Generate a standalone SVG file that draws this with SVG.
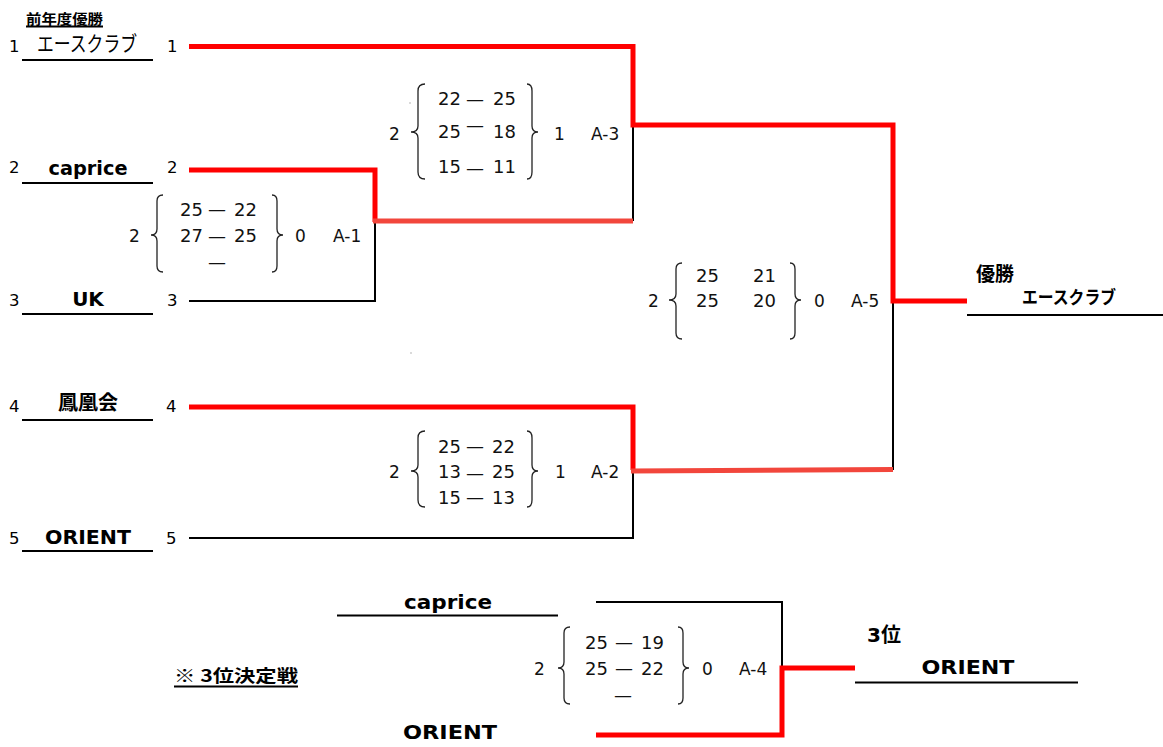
<svg xmlns="http://www.w3.org/2000/svg" width="1163" height="747" viewBox="0 0 1163 747">
<style>
.num{font-family:"DejaVu Sans","Liberation Sans",sans-serif;font-size:16.5px;fill:#000}
.sc{font-family:"DejaVu Sans","Liberation Sans",sans-serif;font-size:18px;fill:#111}
.sm{font-family:"DejaVu Sans","Liberation Sans",sans-serif;font-size:17px;fill:#111}
.name{font-family:"DejaVu Sans","Noto Sans CJK JP",sans-serif;font-weight:bold;font-size:20px;fill:#000;text-anchor:middle}
.jp{font-family:"Noto Sans CJK JP",sans-serif;fill:#000}
.d{text-anchor:middle}
.ul{stroke:#000;stroke-width:2;fill:none}
.blk{stroke:#000;stroke-width:2;fill:none}
.red{stroke:#ff0000;stroke-width:5;fill:none;stroke-linejoin:miter}
.lred{stroke:#f2463c;stroke-width:5;fill:none}
.br{stroke:#222;stroke-width:1.3;fill:none}
</style>
<rect width="1163" height="747" fill="#fff"/>

<g id="connectors">
<path class="blk" d="M189,301 H375 V222"/>
<path class="blk" d="M633,125 V221"/>
<path class="blk" d="M189,538 H633 V470"/>
<path class="blk" d="M893,301 V470"/>
<path class="blk" d="M596,602 H782 V668"/>
<path class="red" d="M189,46.5 H633 V125 H893 V301 H967"/>
<path class="red" d="M189,170 H375 V222"/>
<path class="lred" d="M373,221 H633"/>
<path class="red" d="M189,407 H633 V470"/>
<path class="lred" d="M631,471 L893,469.5"/>
<path class="red" d="M596,735 H782 V668 H855"/>
</g>

<g id="title">
<text class="jp" x="26" y="24" font-size="14" font-weight="bold" textLength="77" lengthAdjust="spacingAndGlyphs">前年度優勝</text>
<line class="ul" x1="26" y1="26.5" x2="103" y2="26.5" stroke-width="1.5"/>
</g>

<g id="team1">
<text class="num" x="9" y="52">1</text>
<text class="jp" x="37" y="51" font-size="21" textLength="100" lengthAdjust="spacingAndGlyphs">エースクラブ</text>
<line class="ul" x1="22" y1="60" x2="153" y2="60"/>
<text class="num" x="167" y="52">1</text>
</g>

<g id="team2">
<text class="num" x="9" y="173">2</text>
<text class="name" x="88" y="175" font-size="20" textLength="79" lengthAdjust="spacingAndGlyphs">caprice</text>
<line class="ul" x1="22" y1="183" x2="153" y2="183"/>
<text class="num" x="167" y="173">2</text>
</g>

<g id="team3">
<text class="num" x="9" y="306">3</text>
<text class="name" x="88" y="306">UK</text>
<line class="ul" x1="22" y1="314" x2="153" y2="314"/>
<text class="num" x="167" y="306">3</text>
</g>

<g id="team4">
<text class="num" x="9" y="412">4</text>
<text class="name" x="88" y="410" style="font-family:'Noto Sans CJK JP',sans-serif">鳳凰会</text>
<line class="ul" x1="22" y1="420" x2="153" y2="420"/>
<text class="num" x="166" y="412">4</text>
</g>

<g id="team5">
<text class="num" x="9" y="544">5</text>
<text class="name" x="88" y="544" textLength="86" lengthAdjust="spacingAndGlyphs">ORIENT</text>
<line class="ul" x1="22" y1="551" x2="153" y2="551"/>
<text class="num" x="166" y="544">5</text>
</g>

<g id="matchA1">
<text class="sm" x="129" y="242">2</text>
<path class="br" d="M163,195 Q157,195 157,201 V229 Q157,235 151,235 Q157,235 157,241 V266 Q157,272 163,272"/>
<text class="sc" x="180" y="216">25</text><text class="sc d" x="217" y="215">—</text><text class="sc" x="234" y="216">22</text>
<text class="sc" x="180" y="242">27</text><text class="sc d" x="217" y="242">—</text><text class="sc" x="234" y="242">25</text>
<text class="sc d" x="217" y="268">—</text>
<path class="br" d="M272,195 Q277,195 277,201 V229 Q277,235 283,235 Q277,235 277,241 V266 Q277,272 272,272"/>
<text class="sm" x="295" y="242">0</text>
<text class="sm" x="333" y="242">A-1</text>
</g>

<g id="matchA3">
<text class="sm" x="389" y="140">2</text>
<path class="br" d="M425,84 Q418,84 418,91 V126 Q418,132 411,132 Q418,132 418,138 V172 Q418,179 425,179"/>
<text class="sc" x="438" y="105">22</text><text class="sc d" x="475" y="105">—</text><text class="sc" x="493" y="105">25</text>
<text class="sc" x="438" y="138">25</text><text class="sc d" x="475" y="131">—</text><text class="sc" x="493" y="138">18</text>
<text class="sc" x="438" y="173">15</text><text class="sc d" x="475" y="174">—</text><text class="sc" x="493" y="173">11</text>
<path class="br" d="M527,84 Q532,84 532,91 V126 Q532,132 538,132 Q532,132 532,138 V172 Q532,179 527,179"/>
<text class="sm" x="554" y="140">1</text>
<text class="sm" x="591" y="140">A-3</text>
<circle cx="410" cy="103" r="0.7" fill="#999"/>
</g>

<g id="matchA2">
<text class="sm" x="389" y="478">2</text>
<path class="br" d="M425,431 Q418,431 418,438 V465 Q418,471 411,471 Q418,471 418,477 V500 Q418,507 425,507"/>
<text class="sc" x="438" y="453">25</text><text class="sc d" x="475" y="452">—</text><text class="sc" x="492" y="453">22</text>
<text class="sc" x="438" y="478">13</text><text class="sc d" x="475" y="479">—</text><text class="sc" x="492" y="478">25</text>
<text class="sc" x="438" y="504">15</text><text class="sc d" x="475" y="503">—</text><text class="sc" x="492" y="504">13</text>
<path class="br" d="M527,431 Q532,431 532,438 V465 Q532,471 538,471 Q532,471 532,477 V500 Q532,507 527,507"/>
<text class="sm" x="555" y="478">1</text>
<text class="sm" x="591" y="478">A-2</text>
<circle cx="411" cy="353" r="0.7" fill="#999"/>
</g>

<g id="matchA5">
<text class="sm" x="648" y="307">2</text>
<path class="br" d="M682,263 Q676,263 676,269 V294 Q676,300 669,300 Q676,300 676,306 V333 Q676,339 682,339"/>
<text class="sc" x="696" y="282">25</text><text class="sc" x="753" y="282">21</text>
<text class="sc" x="696" y="307">25</text><text class="sc" x="753" y="307">20</text>
<path class="br" d="M790,263 Q795,263 795,269 V294 Q795,300 801,300 Q795,300 795,306 V333 Q795,339 790,339"/>
<text class="sm" x="814" y="307">0</text>
<text class="sm" x="851" y="307">A-5</text>
</g>

<g id="winner">
<text class="jp" x="976" y="281" font-size="19" font-weight="bold">優勝</text>
<text class="jp" x="1022" y="304" font-size="18" font-weight="bold" textLength="94" lengthAdjust="spacingAndGlyphs">エースクラブ</text>
<line class="ul" x1="967" y1="315" x2="1163" y2="315"/>
</g>

<g id="third-title">
<text class="jp" x="174" y="682" font-size="17" font-weight="bold" textLength="124" lengthAdjust="spacingAndGlyphs">※ 3位決定戦</text>
<line class="ul" x1="174" y1="686.5" x2="298" y2="686.5" stroke-width="1.5"/>
</g>

<g id="bottom-caprice">
<text class="name" x="448" y="609" font-size="21" textLength="88" lengthAdjust="spacingAndGlyphs">caprice</text>
<line class="ul" x1="337" y1="615.5" x2="558" y2="615.5"/>
</g>

<g id="bottom-orient">
<text class="name" x="450" y="739" font-size="22" textLength="94" lengthAdjust="spacingAndGlyphs">ORIENT</text>
</g>

<g id="matchA4">
<text class="sm" x="534" y="675">2</text>
<path class="br" d="M570,627 Q564,627 564,633 V662 Q564,668 558,668 Q564,668 564,674 V698 Q564,704 570,704"/>
<text class="sc" x="585" y="649">25</text><text class="sc d" x="624" y="648">—</text><text class="sc" x="641" y="649">19</text>
<text class="sc" x="585" y="675">25</text><text class="sc d" x="624" y="674">—</text><text class="sc" x="641" y="675">22</text>
<text class="sc d" x="623" y="701">—</text>
<path class="br" d="M678,627 Q683,627 683,633 V662 Q683,668 689,668 Q683,668 683,674 V698 Q683,704 678,704"/>
<text class="sm" x="702" y="675">0</text>
<text class="sm" x="739" y="675">A-4</text>
</g>

<g id="third">
<text class="name" x="867" y="642" font-size="18" style="text-anchor:start">3<tspan style="font-family:'Noto Sans CJK JP',sans-serif">位</tspan></text>
<text class="name" x="968" y="674" font-size="22" textLength="93" lengthAdjust="spacingAndGlyphs">ORIENT</text>
<line class="ul" x1="855" y1="682.5" x2="1078" y2="682.5"/>
</g>
</svg>
